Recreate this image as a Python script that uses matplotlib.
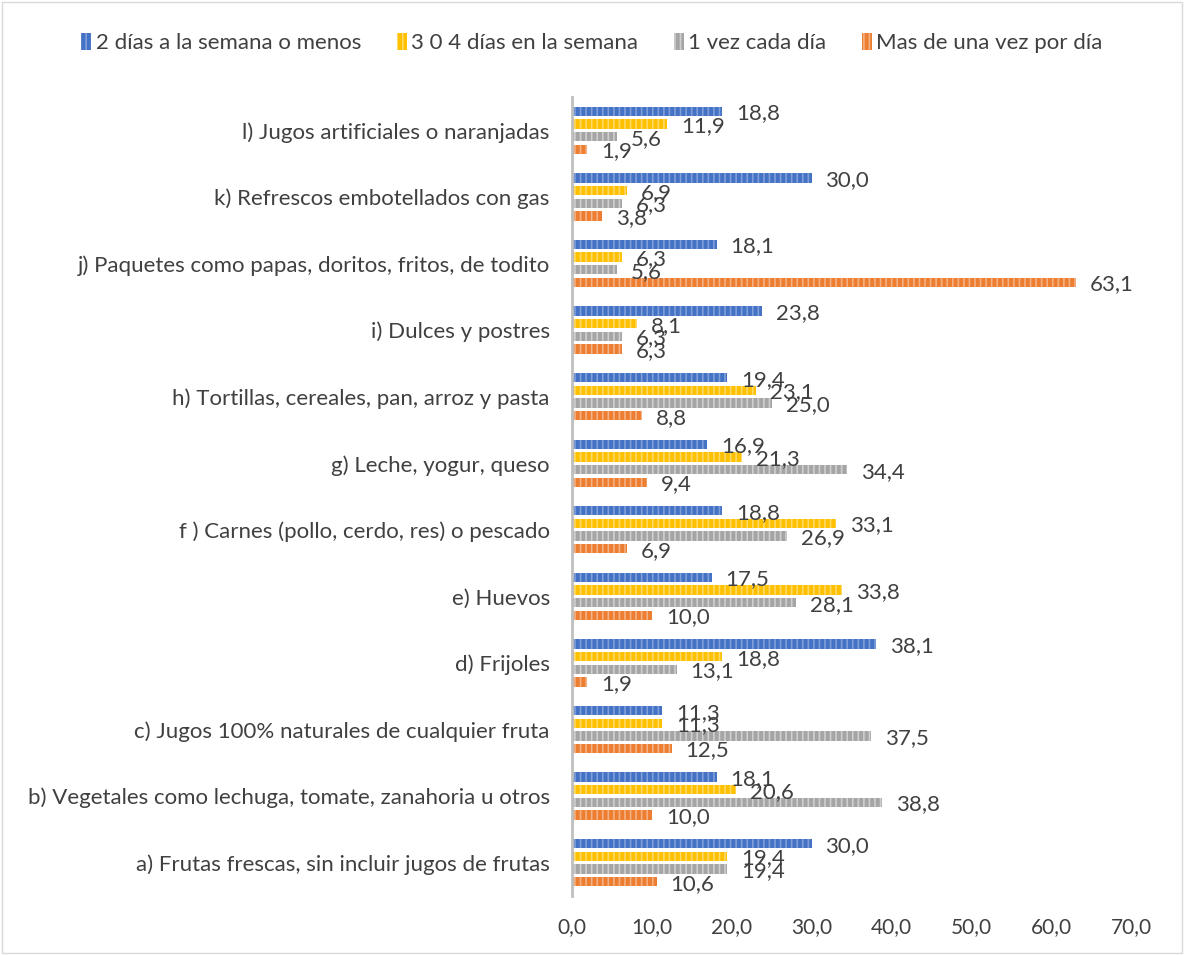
import matplotlib
matplotlib.use("Agg")
import matplotlib.pyplot as plt
from matplotlib.patches import Rectangle
import numpy as np

plt.rcParams['font.family'] = ['Lato', 'DejaVu Sans']
plt.rcParams['hatch.linewidth'] = 1.2

categories = [
    "a) Frutas frescas, sin incluir jugos de frutas",
    "b) Vegetales como lechuga, tomate, zanahoria u otros",
    "c) Jugos 100% naturales de cualquier fruta",
    "d) Frijoles",
    "e) Huevos",
    "f ) Carnes (pollo, cerdo, res) o pescado",
    "g) Leche, yogur, queso",
    "h) Tortillas, cereales, pan, arroz y pasta",
    "i) Dulces y postres",
    "j) Paquetes como papas, doritos, fritos, de todito",
    "k) Refrescos embotellados con gas",
    "l) Jugos artificiales o naranjadas",
]
series_names = ["2 días a la semana o menos", "3 0 4 días en la semana",
                "1 vez cada día", "Mas de una vez por día"]
dos_dias = [30.0, 18.1, 11.3, 38.1, 17.5, 18.8, 16.9, 19.4, 23.8, 18.1, 30.0, 18.8]
tres_cuatro = [19.4, 20.6, 11.3, 18.8, 33.8, 33.1, 21.3, 23.1, 8.1, 6.3, 6.9, 11.9]
una_vez = [19.4, 38.8, 37.5, 13.1, 28.1, 26.9, 34.4, 25.0, 6.3, 5.6, 6.3, 5.6]
mas_una = [10.6, 10.0, 12.5, 1.9, 10.0, 6.9, 9.4, 8.8, 6.3, 63.1, 3.8, 1.9]
xticks = [0, 10, 20, 30, 40, 50, 60, 70]

series = [dos_dias, tres_cuatro, una_vez, mas_una]
colors = ["#4472C4", "#FFC000", "#A5A5A5", "#ED7D31"]
hatch_colors = ["#7F9FDA", "#FFD966", "#CFCFCF", "#F4B183"]
offsets = [0.285, 0.095, -0.095, -0.285]
text_color = "#404040"

fig = plt.figure(figsize=(11.84, 9.55), dpi=100)
fig.patches.append(Rectangle((0.002, 0.002), 0.996, 0.996, transform=fig.transFigure,
                             fill=False, edgecolor="#D9D9D9", linewidth=1.0))
ax = fig.add_axes([0.4831, 0.0618, 0.4721, 0.8366])

y = np.arange(len(categories))
for vals, c, hc, off, name in zip(series, colors, hatch_colors, offsets, series_names):
    bars = ax.barh(y + off, vals, height=0.14, color=c, edgecolor=hc, linewidth=0,
                   hatch='|||', label=name)
    for b, v in zip(bars, vals):
        ax.annotate(f"{v:.1f}".replace('.', ','), xy=(b.get_width(), b.get_y() + b.get_height() / 2),
                    xytext=(10, -1.5), textcoords='offset points', va='center', ha='left',
                    fontsize=16, color=text_color)

ax.set_xlim(0, 70)
ax.set_ylim(-0.5, len(categories) - 0.5)
ax.set_yticks(y)
ax.set_yticklabels(categories, fontsize=16, color=text_color)
ax.set_xticks(xticks)
ax.set_xticklabels([f"{t:.1f}".replace('.', ',') for t in xticks], fontsize=15, color=text_color)
ax.tick_params(axis='both', length=0)
ax.tick_params(axis='y', pad=16)
ax.tick_params(axis='x', pad=15)
for s in ['top', 'right', 'bottom']:
    ax.spines[s].set_visible(False)
ax.spines['left'].set_color('#BFBFBF')
ax.spines['left'].set_linewidth(2)

handles, labels = ax.get_legend_handles_labels()
leg = fig.legend(handles, labels, loc='center', bbox_to_anchor=(0.5, 0.955), ncol=4,
                 frameon=False, fontsize=16, handlelength=0.45, handleheight=0.8,
                 handletextpad=0.2, columnspacing=1.6)
for t in leg.get_texts():
    t.set_color(text_color)

fig.savefig("out.png", dpi=100)
